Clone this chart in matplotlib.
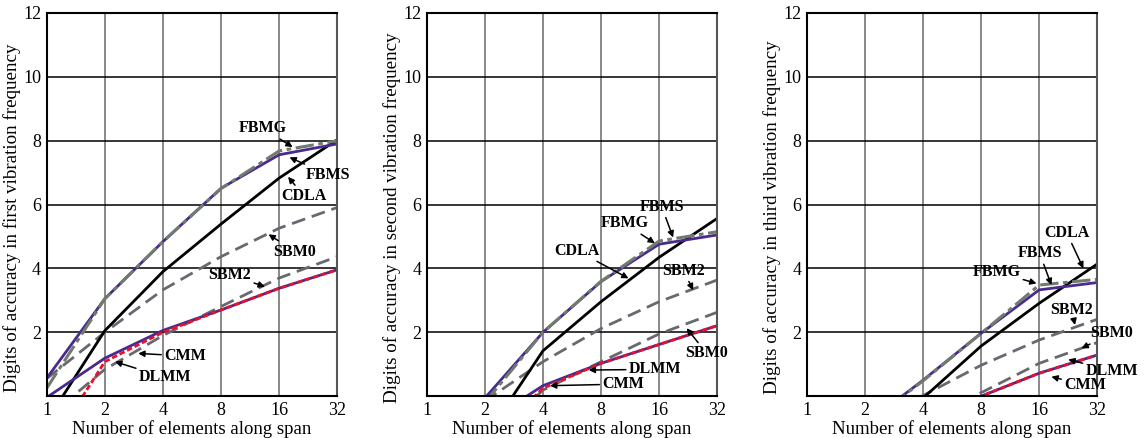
import numpy as np
import matplotlib
matplotlib.use('Agg')
import matplotlib.pyplot as plt

plt.rcParams['font.family'] = ['Liberation Serif', 'DejaVu Serif']

nan = np.nan
n_elems = [1, 2, 4, 8, 16, 32]
ylabels = ['Digits of accuracy in first vibration frequency',
           'Digits of accuracy in second vibration frequency',
           'Digits of accuracy in third vibration frequency']

# first frequency
fbms1 = [0.56, 3.05, 4.84, 6.51, 7.56, 7.90]
fbmg1 = [0.25, 3.05, 4.84, 6.50, 7.68, 8.00]
cdla1 = [-0.78, 2.05, 3.90, 5.39, 6.83, 8.03]
sbm0_1 = [0.55, 2.00, 3.33, 4.37, 5.26, 5.91]
sbm2_1 = [-0.69, 0.84, 1.90, 2.81, 3.70, 4.37]
cmm1 = [-0.04, 1.19, 2.06, 2.70, 3.38, 3.96]
dlmm1 = [-1.76, 1.08, 2.00, 2.70, 3.38, 3.96]

# second frequency
fbms2 = [nan, -0.06, 2.00, 3.59, 4.76, 5.05]
fbmg2 = [nan, -0.20, 2.00, 3.60, 4.86, 5.15]
cdla2 = [nan, -1.31, 1.42, 2.96, 4.35, 5.57]
sbm2_2 = [nan, -0.15, 1.08, 2.12, 2.96, 3.64]
sbm0_2 = [nan, -1.50, 0.19, 1.08, 1.95, 2.63]
cmm2 = [nan, -0.85, 0.33, 1.03, 1.62, 2.21]
dlmm2 = [nan, -1.54, 0.25, 1.03, 1.62, 2.21]

# third frequency
fbms3 = [nan, -0.88, 0.50, 1.97, 3.33, 3.56]
fbmg3 = [nan, -0.90, 0.48, 1.97, 3.48, 3.66]
cdla3 = [nan, -1.70, -0.06, 1.57, 2.91, 4.14]
sbm2_3 = [nan, -1.00, 0.02, 0.97, 1.76, 2.41]
sbm0_3 = [nan, nan, -0.74, 0.11, 1.03, 1.68]
cmm3 = [nan, nan, -0.72, 0.00, 0.72, 1.29]
dlmm3 = [nan, nan, -0.72, 0.00, 0.72, 1.29]

panels = [
    [fbms1, fbmg1, cdla1, sbm0_1, sbm2_1, cmm1, dlmm1],
    [fbms2, fbmg2, cdla2, sbm0_2, sbm2_2, cmm2, dlmm2],
    [fbms3, fbmg3, cdla3, sbm0_3, sbm2_3, cmm3, dlmm3],
]

# labels: (text, text position (n, y), arrow tip (n, y))
notes1 = [('FBMG', (13.2, 8.39), (18.8, 7.80)),
          ('FBMS', (28.8, 6.93), (18.1, 7.48)),
          ('CDLA', (21.5, 6.27), (17.8, 6.87)),
          ('SBM0', (19.3, 4.53), (14.1, 5.07)),
          ('SBM2', (8.9, 3.80), (13.5, 3.43)),
          ('CMM', (5.2, 1.26), (2.98, 1.34)),
          ('DLMM', (4.1, 0.59), (2.26, 1.08))]
notes2 = [('FBMS', (16.5, 5.93), (18.9, 4.97)),
          ('FBMG', (10.6, 5.41), (15.2, 4.79)),
          ('CDLA', (6.0, 4.56), (11.1, 3.69)),
          ('SBM2', (21.4, 3.93), (24.0, 3.32)),
          ('SBM0', (28.2, 1.34), (22.2, 2.13)),
          ('DLMM', (15.2, 0.84), (6.9, 0.82)),
          ('CMM', (10.4, 0.38), (4.35, 0.33))]
notes3 = [('CDLA', (22.2, 5.12), (27.1, 4.00)),
          ('FBMS', (16.1, 4.47), (18.5, 3.48)),
          ('FBMG', (9.6, 3.90), (15.5, 3.53)),
          ('SBM2', (23.6, 2.70), (24.5, 2.23)),
          ('SBM0', (38.0, 1.97), (26.5, 1.50)),
          ('DLMM', (38.0, 0.80), (22.6, 1.15)),
          ('CMM', (27.6, 0.35), (18.5, 0.61))]
notes = [notes1, notes2, notes3]

purple = '#4a2a8e'
grey = '#686870'
greygreen = '#6e7b6e'
red = '#e8102a'

fig = plt.figure(figsize=(11.44, 4.38), dpi=100)
lefts = [0.0408, 0.373, 0.7052]

for k in range(3):
    ax = fig.add_axes([lefts[k], 0.0954, 0.254, 0.875])
    fbms, fbmg, cdla, sbm0, sbm2, cmm, dlmm = panels[k]
    ax.plot(n_elems, sbm0, color=grey, lw=2, dashes=(5, 2.5))
    ax.plot(n_elems, sbm2, color=grey, lw=2, dashes=(5, 2.5))
    ax.plot(n_elems, cdla, color='black', lw=2)
    ax.plot(n_elems, fbms, color=purple, lw=2)
    ax.plot(n_elems, fbmg, color=greygreen, lw=2.2, dashes=(6, 1.5, 1.5, 1.5))
    ax.plot(n_elems, cmm, color=purple, lw=2)
    ax.plot(n_elems, dlmm, color=red, lw=2, dashes=(2, 1))

    ax.set_xscale('log', base=2)
    ax.set_xlim(1, 32)
    ax.set_ylim(0, 12)
    ax.set_xticks(n_elems)
    ax.set_xticklabels([str(v) for v in n_elems])
    ax.set_yticks(range(2, 13, 2))
    ax.minorticks_off()
    ax.tick_params(length=0, labelsize=13, pad=4)
    ax.xaxis.grid(True, color='#808080', lw=1.3)
    ax.yaxis.grid(True, color='black', lw=1.1)
    ax.set_axisbelow(True)
    for s in ax.spines.values():
        s.set_linewidth(1.5)
    ax.spines['right'].set_color('#555555')
    ax.set_xlabel('Number of elements along span', fontsize=13.5, labelpad=1)
    ax.set_ylabel(ylabels[k], fontsize=13.7)
    ax.yaxis.set_label_coords(-0.087, 0.466)

    for txt, pos, tip in notes[k]:
        ax.annotate(txt, xy=tip, xytext=pos, ha='center', va='center',
                    fontsize=11.5, fontweight='bold', annotation_clip=False,
                    arrowprops=dict(arrowstyle='-|>', color='black', lw=1.1,
                                    mutation_scale=9, shrinkA=0, shrinkB=0))

plt.savefig('out.png', dpi=100)
